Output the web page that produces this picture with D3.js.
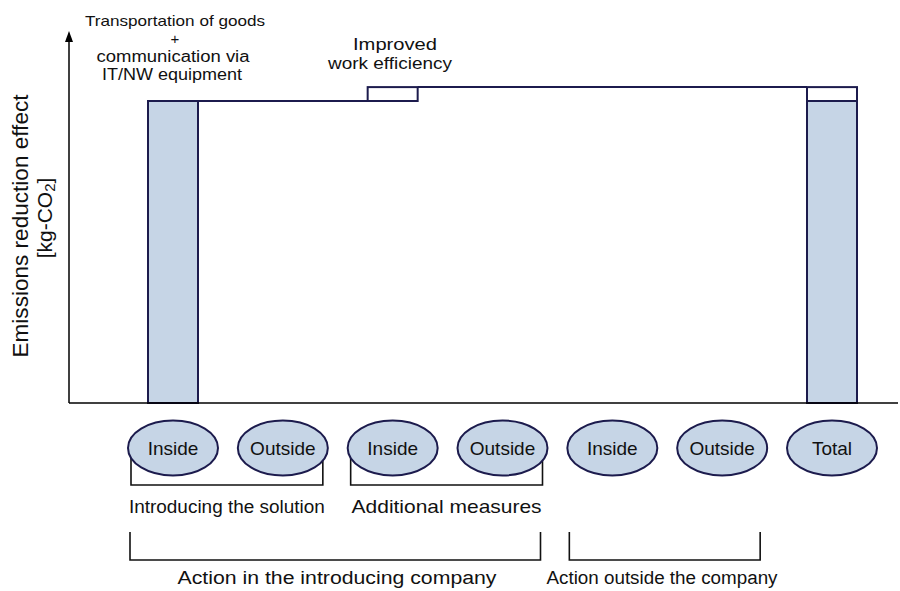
<!DOCTYPE html>
<html><head><meta charset="utf-8">
<script src="https://cdn.jsdelivr.net/npm/d3@7"></script>
<style>body{margin:0;background:#fff}svg{display:block}text{font-family:"Liberation Sans",Arial,sans-serif;fill:#111}</style>
</head><body><svg id="c" width="900" height="591"></svg>
<script>
// ---- data ----
const categories = ["Inside","Outside","Inside","Outside","Inside","Outside","Total"];
const effects = [100, 0, 4.6, 0, 0, 0];          // reduction effect of each step (arbitrary kg-CO2 units)
const stepKind = ["base","base","extra","extra","outside","outside"];
const subGroups = [{label:"Introducing the solution", from:0, to:1},{label:"Additional measures", from:2, to:3}];
const mainGroups = [{label:"Action in the introducing company", from:0, to:3},{label:"Action outside the company", from:4, to:5}];
const yTitle = ["Emissions reduction effect","[kg-CO2]"];
const noteBase = ["Transportation of goods","+","communication via","IT/NW equipment"];
const noteExtra = ["Improved","work efficiency"];

// ---- styles ----
const NAVY = "#1c1b4d", BLUE = "#c6d5e6";
const fills = {base: BLUE, extra: "#ffffff", outside: "#ffffff"};

const svg = d3.select("#c");
const x = d3.scalePoint().domain(d3.range(categories.length)).range([173, 832]);
const y = d3.scaleLinear().domain([0, 100]).range([403, 101]);
const barW = 50;

// cumulative waterfall
let cum = 0;
const segs = [];
effects.forEach((v, i) => { if (v > 0) segs.push({i, y0: cum, y1: cum + v, kind: stepKind[i]}); cum += v; });
const totalIdx = categories.length - 1;
const totalSegs = segs.map(s => ({i: totalIdx, y0: s.y0, y1: s.y1, kind: s.kind}));

// connectors
const conn = svg.append("g").attr("stroke", NAVY).attr("stroke-width", 2).attr("fill", "none");
segs.forEach((s, k) => {
  const nextI = k + 1 < segs.length ? segs[k + 1].i : totalIdx;
  conn.append("line").attr("x1", x(s.i) + barW/2).attr("x2", x(nextI) - barW/2)
    .attr("y1", y(s.y1)).attr("y2", y(s.y1));
});

// bars
svg.append("g").selectAll("rect").data(segs.concat(totalSegs)).join("rect")
  .attr("x", d => x(d.i) - barW/2).attr("width", barW)
  .attr("y", d => y(d.y1)).attr("height", d => y(d.y0) - y(d.y1))
  .attr("fill", d => fills[d.kind]).attr("stroke", NAVY).attr("stroke-width", 2);

// axes
const ax = svg.append("g").attr("stroke", "#000").attr("stroke-width", 1.5);
ax.append("line").attr("x1", 69).attr("x2", 898).attr("y1", y(0)).attr("y2", y(0));
ax.append("line").attr("x1", 69).attr("x2", 69).attr("y1", y(0)).attr("y2", 40);
svg.append("path").attr("d", "M69,31 L65,42 L73,42 Z").attr("fill", "#000");

// y title
svg.append("text").attr("transform", "translate(28,226) rotate(-90)").attr("text-anchor", "middle")
  .style("font-size", "22px").attr("textLength", 263).attr("lengthAdjust", "spacingAndGlyphs").text(yTitle[0]);
const yt2 = svg.append("text").attr("transform", "translate(52,218) rotate(-90)").attr("text-anchor", "middle")
  .style("font-size", "21px");
yt2.append("tspan").text("[kg-CO");
yt2.append("tspan").attr("dy", 3).style("font-size", "15px").text("2");
yt2.append("tspan").attr("dy", -3).text("]");

// annotations
const nb = svg.append("g").attr("text-anchor", "middle");
nb.append("text").attr("x", 175).attr("y", 26).style("font-size", "15px").attr("textLength", 180).attr("lengthAdjust", "spacingAndGlyphs").text(noteBase[0]);
nb.append("text").attr("x", 175).attr("y", 44).style("font-size", "15px").text(noteBase[1]);
nb.append("text").attr("x", 173).attr("y", 62).style("font-size", "16px").attr("textLength", 153).attr("lengthAdjust", "spacingAndGlyphs").text(noteBase[2]);
nb.append("text").attr("x", 172).attr("y", 80).style("font-size", "16px").attr("textLength", 140).attr("lengthAdjust", "spacingAndGlyphs").text(noteBase[3]);
const ne = svg.append("g").attr("text-anchor", "middle");
ne.append("text").attr("x", 395).attr("y", 50).style("font-size", "17px").attr("textLength", 84).attr("lengthAdjust", "spacingAndGlyphs").text(noteExtra[0]);
ne.append("text").attr("x", 390).attr("y", 69).style("font-size", "17px").attr("textLength", 124).attr("lengthAdjust", "spacingAndGlyphs").text(noteExtra[1]);

// brackets (drawn before ellipses)
const br = svg.append("g").attr("stroke", "#111").attr("stroke-width", 1.6).attr("fill", "none");
subGroups.forEach(g => {
  const l = x(g.from) - 42, r = x(g.to) + 40;
  br.append("path").attr("d", `M${l},448 V485 H${r} V448`);
});
mainGroups.forEach(g => {
  const l = x(g.from) - 43, r = x(g.to) + 38;
  br.append("path").attr("d", `M${l},532 V560 H${r} V532`);
});
const subLen = [196, 190], subSize = [18, 19];
subGroups.forEach((g, k) => {
  svg.append("text").attr("x", (x(g.from) - 42 + x(g.to) + 40) / 2).attr("y", 513)
    .attr("text-anchor", "middle").style("font-size", subSize[k] + "px")
    .attr("textLength", subLen[k]).attr("lengthAdjust", "spacingAndGlyphs").text(g.label);
});
const mainCx = [337, 662], mainLen = [319, 231];
mainGroups.forEach((g, k) => {
  svg.append("text").attr("x", mainCx[k]).attr("y", 584).attr("text-anchor", "middle")
    .style("font-size", "18px").attr("textLength", mainLen[k]).attr("lengthAdjust", "spacingAndGlyphs").text(g.label);
});

// category ellipses
const cat = svg.append("g").selectAll("g").data(categories).join("g")
  .attr("transform", (d, i) => `translate(${x(i)},448)`);
cat.append("ellipse").attr("rx", 45).attr("ry", 27.5).attr("fill", BLUE).attr("stroke", NAVY).attr("stroke-width", 2);
cat.append("text").attr("text-anchor", "middle").attr("y", 7).style("font-size", "19px").text(d => d);
</script></body></html>
